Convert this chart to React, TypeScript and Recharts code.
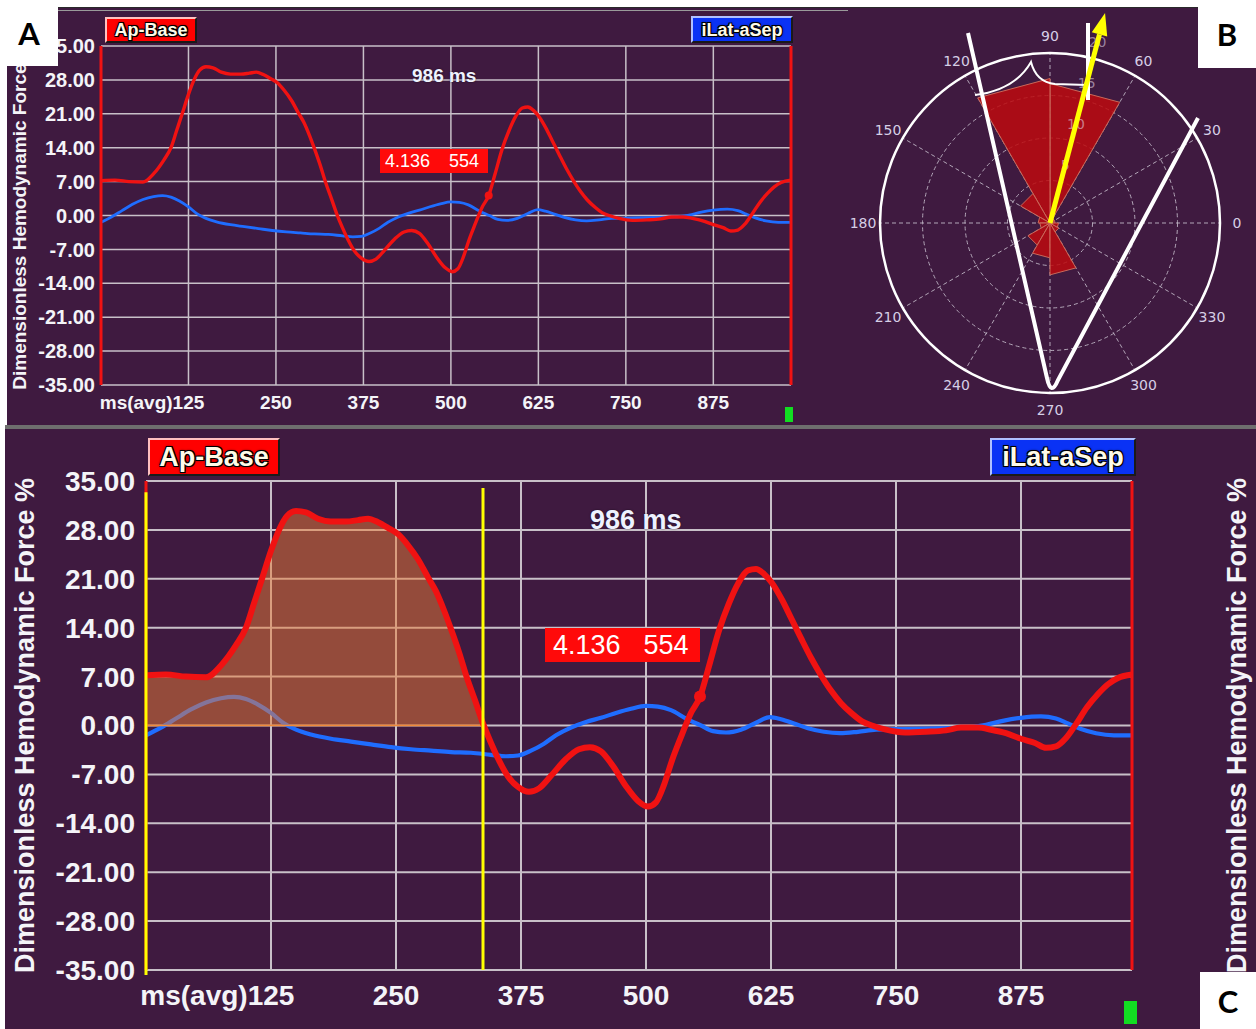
import React from "react";
import {
  Area,
  CartesianGrid,
  ComposedChart,
  Label,
  Line,
  PolarAngleAxis,
  PolarGrid,
  PolarRadiusAxis,
  Radar,
  RadarChart,
  ReferenceDot,
  ReferenceLine,
  XAxis,
  YAxis,
} from "recharts";

const BG = "#3f1a40";
const RED = "#f01212";
const BLUE = "#1f6dff";
const GRID = "#c8c0c8";
const TICK = "#f4f4f8";
const FONT = "'Liberation Sans', Arial, sans-serif";

// time axis
const msDomain = [0, 986];
const xTicks = [125, 250, 375, 500, 625, 750, 875];
const yTicks = [35, 28, 21, 14, 7, 0, -7, -14, -21, -28, -35];

// Ap-Base (red)
const apBaseMs = [
  0, 20, 40, 60, 75, 90, 100, 108, 116, 125, 133, 141, 150, 160, 172, 185, 200, 212, 222, 232,
  242, 252, 262, 272, 282, 290, 298, 305, 313, 321, 329, 337, 345, 353, 362, 372, 383, 393, 405, 420,
  433, 444, 455, 467, 480, 492, 502, 510, 518, 526, 534, 545, 554, 563, 573, 583, 592, 602, 610, 618,
  626, 636, 645, 655, 665, 675, 685, 695, 706, 716, 726, 740, 759, 780, 800, 815, 832, 845, 860, 875,
  889, 900, 910, 920, 930, 941, 952, 962, 972, 986,
];
const apBaseForce = [
  7.2, 7.3, 7.0, 6.9, 8.6, 11.5, 14.0, 17.5, 21.0, 25.0, 28.0, 30.0, 30.7, 30.5, 29.6, 29.2, 29.2, 29.4, 29.6, 29.1,
  28.3, 27.4, 25.8, 23.8, 21.2, 19.2, 16.5, 13.8, 10.5, 6.8, 3.6, 0.3, -2.5, -5.0, -7.3, -8.8, -9.5, -9.0, -7.2, -4.8,
  -3.4, -3.1, -3.7, -5.8, -8.7, -10.8, -11.6, -11.0, -8.5, -5.0, -2.0, 1.8, 4.1, 8.5, 13.6, 17.5, 20.3, 22.2, 22.4, 21.7,
  20.4, 18.0, 15.4, 12.5, 9.7, 7.2, 5.0, 3.2, 1.7, 0.6, 0.0, -0.6, -1.0, -0.9, -0.7, -0.3, -0.3, -0.6, -1.1, -1.9,
  -2.5, -3.2, -3.0, -1.8, 0.2, 2.6, 4.5, 5.9, 6.8, 7.3,
];

// iLat-aSep (blue)
const latSepMs = [
  0, 15, 30, 45, 60, 75, 88, 100, 112, 125, 137, 150, 165, 185, 205, 225, 245, 265, 285, 305,
  325, 345, 360, 372, 385, 398, 410, 425, 440, 455, 470, 485, 500, 512, 525, 540, 555, 567, 580, 595,
  610, 624, 635, 648, 662, 678, 694, 712, 730, 760, 790, 820, 840, 858, 875, 895, 910, 922, 935, 950,
  968, 986,
];
const latSepForce = [
  -1.4, -0.3, 1.0, 2.3, 3.3, 3.9, 4.1, 3.8, 3.0, 1.8, 0.4, -0.6, -1.3, -1.9, -2.3, -2.7, -3.1, -3.4, -3.6, -3.8,
  -3.9, -4.2, -4.4, -4.3, -3.6, -2.6, -1.4, -0.3, 0.5, 1.1, 1.8, 2.4, 2.8, 2.7, 2.2, 1.0, 0.0, -0.8, -1.0, -0.6,
  0.4, 1.2, 0.9, 0.3, -0.4, -0.9, -1.1, -0.9, -0.6, -0.5, -0.4, -0.3, 0.1, 0.7, 1.1, 1.3, 1.0, 0.3, -0.5, -1.1,
  -1.4, -1.4,
];

const cursorMs = 554;
const cursorForce = 4.136;
const cycleMs = 986;
const selectionMs = [0, 337];

// polar rose (panel B): bin start angle in degrees, count per bin
const roseDirs = ["0", "30", "60", "90", "120", "150", "180", "210", "240", "270", "300", "330"];
const roseCounts = [0.6, 0.6, 16.4, 17.0, 4.0, 1.4, 1.2, 3.0, 4.1, 6.1, 1.2, 1.0];
const roseBinWidth = 30;
const meanDirection = 75.3;

const apBase = apBaseMs.map((ms, i) => ({ ms, v: apBaseForce[i] }));
const latSep = latSepMs.map((ms, i) => ({ ms, v: latSepForce[i] }));
const selection = apBase.filter((p) => p.ms >= selectionMs[0] && p.ms <= selectionMs[1]);
const roseData = roseDirs.map((dir, i) => ({ dir, count: roseCounts[i] }));

const fmt = (v: number) => v.toFixed(2);
const TITLE = "Dimensionless Hemodynamic Force %";

const axisTitle = (x: number, size: number, fallbackY: number) => (props: any) => {
  const vb = props && props.viewBox;
  const cy = vb && vb.height ? vb.y + vb.height / 2 : fallbackY;
  return (
    <text
      x={x}
      y={cy}
      transform={`rotate(-90 ${x} ${cy})`}
      textAnchor="middle"
      dominantBaseline="central"
      fill={TICK}
      fontSize={size}
      fontWeight={700}
      fontFamily={FONT}
    >
      {TITLE}
    </text>
  );
};

const msTick = (fs: number) => (p: any) => {
  const v = p.payload.value;
  const base = p.y + fs * 0.72;
  const style = { fill: TICK, fontSize: fs, fontWeight: 700, fontFamily: FONT };
  return (
    <g>
      <text x={p.x} y={base} textAnchor="middle" {...style}>
        {v}
      </text>
      {v === xTicks[0] && (
        <text x={p.x - fs * 0.834} y={base} textAnchor="end" {...style}>
          ms(avg)
        </text>
      )}
    </g>
  );
};

interface Spec {
  w: number;
  h: number;
  top: number;
  xAxisH: number;
  leftW: number;
  rightW: number;
  yFont: number;
  xFont: number;
  lGap: number;
  rGap: number;
  xGap: number;
  redW: number;
  blueW: number;
  gridW: number;
  titleSize: number;
  titleX: number;
  rightTitleX?: number;
  withSelection: boolean;
  dotR: number;
}

function ForceChart({ s }: { s: Spec }) {
  const tickStyle = { fill: TICK, fontSize: s.yFont, fontWeight: 700, fontFamily: FONT };
  const midY = s.top + (s.h - s.top - 10 - s.xAxisH) / 2;
  return (
    <ComposedChart width={s.w} height={s.h} margin={{ top: s.top, right: 0, bottom: 10, left: 0 }}>
      <CartesianGrid stroke={GRID} strokeWidth={s.gridW} />
      <XAxis
        type="number"
        dataKey="ms"
        domain={msDomain}
        ticks={xTicks}
        interval={0}
        allowDataOverflow
        axisLine={false}
        tickLine={false}
        tickSize={0}
        tickMargin={s.xGap}
        height={s.xAxisH}
        tick={msTick(s.xFont)}
      />
      <YAxis
        type="number"
        domain={[-35, 35]}
        ticks={yTicks}
        interval={0}
        width={s.leftW}
        axisLine={s.withSelection ? false : { stroke: RED, strokeWidth: 3 }}
        tickLine={false}
        tickSize={0}
        tickMargin={s.lGap}
        tick={tickStyle}
        tickFormatter={fmt}
      >
        <Label content={axisTitle(s.titleX, s.titleSize, midY)} />
      </YAxis>
      <YAxis
        yAxisId="r"
        orientation="right"
        type="number"
        domain={[-35, 35]}
        ticks={yTicks}
        interval={0}
        width={s.rightW}
        axisLine={{ stroke: RED, strokeWidth: 3 }}
        tickLine={false}
        tickSize={0}
        tickMargin={s.rGap}
        tick={tickStyle}
        tickFormatter={fmt}
      >
        {s.rightTitleX !== undefined && <Label content={axisTitle(s.rightTitleX, s.titleSize, midY)} />}
      </YAxis>
      <Line
        data={latSep}
        dataKey="v"
        type="monotone"
        stroke={BLUE}
        strokeWidth={s.blueW}
        dot={false}
        isAnimationActive={false}
        zIndex={400}
      />
      {s.withSelection && (
        <Area
          data={selection}
          dataKey="v"
          type="monotone"
          baseValue={0}
          stroke="#f08a3a"
          strokeWidth={1.5}
          fill="#ea7c36"
          fillOpacity={0.5}
          isAnimationActive={false}
          zIndex={450}
        />
      )}
      <Line
        data={apBase}
        dataKey="v"
        type="monotone"
        stroke={RED}
        strokeWidth={s.redW}
        strokeLinejoin="round"
        dot={false}
        isAnimationActive={false}
        zIndex={500}
      />
      {s.withSelection && (
        <ReferenceLine
          segment={[
            { x: selectionMs[0], y: 0 },
            { x: selectionMs[1], y: 0 },
          ]}
          stroke="#f08a3a"
          strokeWidth={1.5}
          ifOverflow="visible"
          zIndex={460}
        />
      )}
      {s.withSelection && (
        <ReferenceLine
          segment={[
            { x: selectionMs[0], y: 35 },
            { x: selectionMs[0], y: -35 },
          ]}
          stroke={RED}
          strokeWidth={3}
          ifOverflow="visible"
          zIndex={600}
        />
      )}
      {s.withSelection && (
        <ReferenceLine
          segment={[
            { x: selectionMs[0], y: 33.4 },
            { x: selectionMs[0], y: -35.7 },
          ]}
          stroke="#ffff00"
          strokeWidth={3}
          ifOverflow="visible"
          zIndex={610}
        />
      )}
      {s.withSelection && (
        <ReferenceLine
          segment={[
            { x: selectionMs[1], y: 34.0 },
            { x: selectionMs[1], y: -35.0 },
          ]}
          stroke="#ffff00"
          strokeWidth={3}
          ifOverflow="visible"
          zIndex={610}
        />
      )}
      <ReferenceDot
        x={cursorMs}
        y={cursorForce}
        r={s.dotR}
        fill={RED}
        stroke="none"
        ifOverflow="visible"
        zIndex={620}
      />
    </ComposedChart>
  );
}

const specA: Spec = {
  w: 862, h: 417, top: 38, xAxisH: 30, leftW: 93, rightW: 79,
  yFont: 20, xFont: 19, lGap: 6, rGap: 9, xGap: 10,
  redW: 3.4, blueW: 2.8, gridW: 1.5, titleSize: 19, titleX: 11,
  withSelection: false, dotR: 4,
};

const specC: Spec = {
  w: 1251, h: 600, top: 52, xAxisH: 49, leftW: 141, rightW: 124,
  yFont: 28, xFont: 28, lGap: 11, rGap: 13, xGap: 15,
  redW: 6, blueW: 4.2, gridW: 2, titleSize: 27, titleX: 20, rightTitleX: 1232,
  withSelection: true, dotR: 6,
};

// rose geometry
const ROSE_CX = 200;
const ROSE_CY = 215;
const ROSE_R = 170;
const DEG = Math.PI / 180;

// each petal: wedge from the bin's start angle, radius from the chart's radius scale
const PetalShape = (props: any) => {
  const pts = props.points || [];
  return (
    <g>
      {pts.map((p: any, i: number) => {
        const cx = p.cx ?? ROSE_CX;
        const cy = p.cy ?? ROSE_CY;
        const r = typeof p.radius === "number" ? p.radius : Math.hypot(p.x - cx, p.y - cy);
        const a0 = Number(p.payload?.dir ?? roseDirs[i]);
        const a1 = a0 + roseBinWidth;
        const d = `M${cx},${cy} L${cx + r * Math.cos(a0 * DEG)},${cy - r * Math.sin(a0 * DEG)} L${
          cx + r * Math.cos(a1 * DEG)
        },${cy - r * Math.sin(a1 * DEG)} Z`;
        return <path key={i} d={d} fill="#bb0a0f" fillOpacity={0.86} stroke="#c8685a" strokeWidth={1} />;
      })}
    </g>
  );
};

const angleTick = (p: any) => {
  const dx = p.x - ROSE_CX;
  const dy = p.y - ROSE_CY;
  const len = Math.hypot(dx, dy) || 1;
  return (
    <text
      x={ROSE_CX + (dx / len) * 187}
      y={ROSE_CY + (dy / len) * 187}
      textAnchor="middle"
      dominantBaseline="central"
      fill="#d6cfe6"
      fontSize={14}
      fontFamily="'DejaVu Sans', sans-serif"
    >
      {p.payload.value}
    </text>
  );
};

const radiusTick = (p: any) => {
  if (!p.payload || p.payload.value === 0) return <g />;
  const dx = p.x - ROSE_CX;
  const dy = p.y - ROSE_CY;
  const len = Math.hypot(dx, dy) || 1;
  return (
    <text
      x={p.x + (dx / len) * 17}
      y={p.y + (dy / len) * 17}
      textAnchor="middle"
      dominantBaseline="central"
      fill="#e6dcea"
      fillOpacity={0.55}
      fontSize={14}
      fontFamily="'DejaVu Sans', sans-serif"
    >
      {p.payload.value}
    </text>
  );
};

function DirectionRose() {
  return (
    <RadarChart
      width={406}
      height={417}
      cx={ROSE_CX}
      cy={ROSE_CY}
      outerRadius={ROSE_R}
      startAngle={30}
      endAngle={390}
      data={roseData}
      margin={{ top: 0, right: 0, bottom: 0, left: 0 }}
    >
      <Radar dataKey="count" shape={PetalShape} isAnimationActive={false} />
      <PolarGrid gridType="circle" stroke="#b3a6b8" strokeDasharray="4 3" strokeWidth={1} />
      <PolarAngleAxis
        dataKey="dir"
        tick={angleTick}
        tickLine={false}
        axisLineType="circle"
        axisLine={{ stroke: "#ffffff", strokeWidth: 2.5 }}
      />
      <PolarRadiusAxis
        angle={meanDirection}
        type="number"
        domain={[0, 20]}
        tickCount={5}
        axisLine={false}
        tickLine={false}
        tick={radiusTick}
      />
    </RadarChart>
  );
}

function RoseAnnotations() {
  const len = 217;
  const u = { x: Math.cos(meanDirection * DEG), y: -Math.sin(meanDirection * DEG) };
  const tip = { x: ROSE_CX + u.x * len, y: ROSE_CY + u.y * len };
  const base = { x: tip.x - u.x * 22, y: tip.y - u.y * 22 };
  const n = { x: -u.y, y: u.x };
  const head = `${tip.x},${tip.y} ${base.x + n.x * 8},${base.y + n.y * 8} ${base.x - n.x * 8},${base.y - n.y * 8}`;
  return (
    <svg width={406} height={417} style={{ position: "absolute", left: 0, top: 0, pointerEvents: "none" }}>
      <path d="M118,25 L197,370 Q201,389 208,372 L348,110" fill="none" stroke="#ffffff" strokeWidth={4} />
      <line x1={238} y1={15} x2={238} y2={92} stroke="#ffffff" strokeWidth={4} />
      <path d="M125,87 Q165,82 181,54 Q186,74 205,76 L237,77" fill="none" stroke="#ffffff" strokeWidth={2} />
      <line x1={ROSE_CX} y1={ROSE_CY} x2={base.x} y2={base.y} stroke="#ffff00" strokeWidth={5} />
      <polygon points={head} fill="#ffff00" />
    </svg>
  );
}

const outline = "1px 1px 0 #000, -1px -1px 0 #000, 1px -1px 0 #000, -1px 1px 0 #000, 0 0 3px #000";

function Tag({ left, top, width, height, bg, light, text, fs }: any) {
  return (
    <div
      style={{
        position: "absolute",
        left,
        top,
        width,
        height,
        boxSizing: "border-box",
        background: bg,
        borderStyle: "solid",
        borderWidth: 2,
        borderColor: `${light} #1a1a1a #1a1a1a ${light}`,
        color: "#fffbe8",
        fontFamily: FONT,
        fontWeight: 700,
        fontSize: fs,
        textShadow: outline,
        display: "flex",
        alignItems: "center",
        justifyContent: "center",
        lineHeight: 1,
        zIndex: 5,
      }}
    >
      {text}
    </div>
  );
}

function Note({ left, top, fs, children }: any) {
  return (
    <div
      style={{
        position: "absolute",
        left,
        top,
        fontFamily: FONT,
        fontWeight: 700,
        fontSize: fs,
        color: "#eef2ff",
        lineHeight: 1,
        whiteSpace: "nowrap",
        textShadow: "0 0 2px rgba(0,0,0,0.6)",
        zIndex: 5,
      }}
    >
      {children}
    </div>
  );
}

function CursorBox({ left, top, width, height, fs, gap }: any) {
  return (
    <div
      style={{
        position: "absolute",
        left,
        top,
        width,
        height,
        boxSizing: "border-box",
        background: "#ff0a0a",
        color: "#ffffff",
        fontFamily: FONT,
        fontSize: fs,
        display: "flex",
        alignItems: "center",
        paddingLeft: Math.round(fs * 0.3),
        lineHeight: 1,
        zIndex: 5,
      }}
    >
      <span>{cursorForce.toFixed(3)}</span>
      <span style={{ marginLeft: gap }}>{cursorMs}</span>
    </div>
  );
}

function PanelLetter({ left, top, width, height, letter }: any) {
  return (
    <div
      style={{
        position: "absolute",
        left,
        top,
        width,
        height,
        background: "#ffffff",
        display: "flex",
        alignItems: "center",
        justifyContent: "center",
        fontFamily: "Lato, 'Open Sans', sans-serif",
        fontWeight: 700,
        fontSize: 31,
        color: "#000000",
        zIndex: 10,
      }}
    >
      {letter}
    </div>
  );
}

export default function App() {
  const abs = (style: any) => ({ position: "absolute" as const, ...style });
  return (
    <div style={abs({ left: 0, top: 0, width: 1256, height: 1029, background: "#ffffff", overflow: "hidden" })}>
      {/* panel A */}
      <div style={abs({ left: 7, top: 8, width: 863, height: 417, background: BG })} />
      <div style={abs({ left: 7, top: 7, width: 1249, height: 1, background: "#2a2a2a" })} />
      <div style={abs({ left: 58, top: 10, width: 790, height: 1, background: "#9a9a9a" })} />
      <div style={abs({ left: 8, top: 8, width: 862, height: 417, zIndex: 1 })}>
        <ForceChart s={specA} />
      </div>
      <Tag left={105} top={17} width={92} height={26} bg="#ff0000" light="#ffc0c0" text="Ap-Base" fs={18} />
      <Tag left={691} top={16} width={102} height={27} bg="#0a32f5" light="#b0c0ff" text="iLat-aSep" fs={18} />
      <Note left={412} top={66} fs={19}>{`${cycleMs} ms`}</Note>
      <CursorBox left={380} top={149} width={108} height={24} fs={18} gap={19} />
      <div style={abs({ left: 785, top: 407, width: 8, height: 15, background: "#12dd22", zIndex: 2 })} />

      {/* panel B */}
      <div style={abs({ left: 850, top: 8, width: 406, height: 417, background: BG, zIndex: 3 })}>
        <DirectionRose />
        <RoseAnnotations />
      </div>

      {/* separator */}
      <div style={abs({ left: 5, top: 425, width: 1251, height: 4, background: "#6e6e6e", zIndex: 4 })} />

      {/* panel C */}
      <div style={abs({ left: 5, top: 429, width: 1251, height: 600, background: BG })} />
      <div style={abs({ left: 5, top: 429, width: 1251, height: 600, zIndex: 1 })}>
        <ForceChart s={specC} />
      </div>
      <Tag left={148} top={438} width={132} height={38} bg="#ff0000" light="#ffc0c0" text="Ap-Base" fs={27} />
      <Tag left={990} top={438} width={146} height={38} bg="#0a32f5" light="#b0c0ff" text="iLat-aSep" fs={27} />
      <Note left={590} top={507} fs={27}>{`${cycleMs} ms`}</Note>
      <CursorBox left={545} top={628} width={155} height={34} fs={27} gap={23} />
      <div style={abs({ left: 1124, top: 1001, width: 13, height: 23, background: "#12dd22", zIndex: 2 })} />

      <PanelLetter left={0} top={0} width={58} height={66} letter="A" />
      <PanelLetter left={1198} top={0} width={58} height={68} letter="B" />
      <PanelLetter left={1200} top={972} width={56} height={57} letter="C" />
    </div>
  );
}
